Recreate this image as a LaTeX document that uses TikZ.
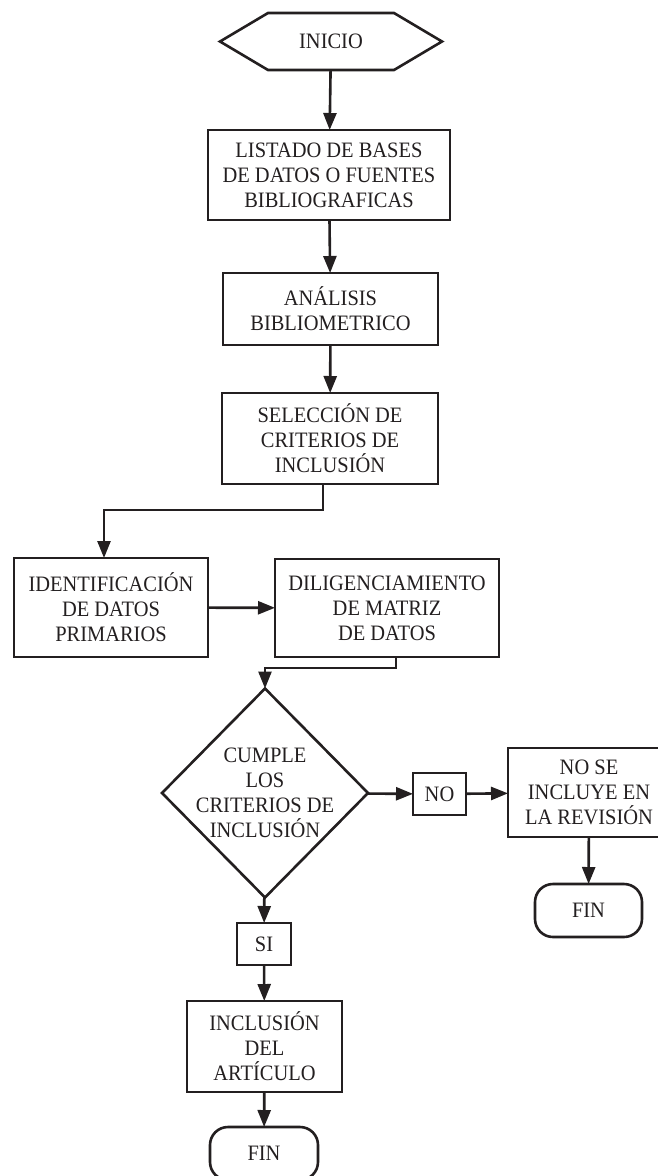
\documentclass[tikz,border=0pt]{standalone}
\usepackage{fontspec}
\setmainfont{Liberation Serif}[FakeStretch=0.93]
\usepackage{xcolor}
\usetikzlibrary{arrows.meta,shapes.geometric}

\definecolor{ink}{RGB}{35,31,32}

\begin{document}
\begin{tikzpicture}[x=1pt, y=-1pt, line width=2.6pt, ink,
    every node/.style={font=\fontsize{22}{25}\selectfont, text=ink, align=center, inner sep=0pt, outer sep=0pt},
    box/.style={draw, rectangle},
    endbox/.style={draw, rectangle, rounded corners=18pt},
    arr/.style={-{Triangle[length=17pt,width=13pt]}}]
    \useasboundingbox (0,0) rectangle (657,1176);
    % start
    \node (inicio) [minimum width=222pt, minimum height=57pt] at (331,41.5) {INICIO};
    \draw (inicio.west) -- ([xshift=48pt]inicio.north west) -- ([xshift=-48pt]inicio.north east)
      -- (inicio.east) -- ([xshift=-48pt]inicio.south east) -- ([xshift=48pt]inicio.south west) -- cycle;
    % main column
    \node (listado) [box, minimum width=242pt, minimum height=90pt] at (329,175) {LISTADO DE BASES\\DE DATOS O FUENTES\\BIBLIOGRAFICAS};
    \node (analisis) [box, minimum width=215pt, minimum height=72pt] at (330.5,309) {ANÁLISIS\\BIBLIOMETRICO};
    \node (seleccion) [box, minimum width=216pt, minimum height=91pt] at (330,438.5) {SELECCIÓN DE\\CRITERIOS DE\\INCLUSIÓN};
    \node (ident) [box, minimum width=194pt, minimum height=99pt] at (111,607.5) {IDENTIFICACIÓN\\DE DATOS\\PRIMARIOS};
    \node (dilig) [box, minimum width=224pt, minimum height=98pt] at (387,608) {DILIGENCIAMIENTO\\DE MATRIZ\\DE DATOS};
    % decision
    \node (cumple) [draw, diamond, minimum width=206pt, minimum height=209pt] at (265,793) {};
    \node (cumpletxt) at (cumple) {CUMPLE\\LOS\\CRITERIOS DE\\INCLUSIÓN};
    \node (no) [box, minimum width=53pt, minimum height=42pt] at (439.5,794) {NO};
    \node (nose) [box, minimum width=162pt, minimum height=89pt] at (589,792.5) {NO SE\\INCLUYE EN\\LA REVISIÓN};
    \node (finno) [endbox, minimum width=107pt, minimum height=53pt] at (588.5,910.5) {FIN};
    \node (si) [box, minimum width=54pt, minimum height=42pt] at (264,944) {SI};
    \node (inclusion) [box, minimum width=155pt, minimum height=91pt] at (264.5,1046.5) {INCLUSIÓN\\DEL\\ARTÍCULO};
    \node (finsi) [endbox, minimum width=108pt, minimum height=53pt] at (264,1153.5) {FIN};
    % connectors
    \foreach \a/\b in {inicio/listado, listado/analisis, analisis/seleccion, ident/dilig,
        cumple/no, no/nose, nose/finno, cumple/si, si/inclusion, inclusion/finsi} {
      \draw[arr] (\a) -- (\b);
    }
    \draw[arr] ([xshift=-7pt]seleccion.south) -- ++(0,26) -| ([xshift=-7pt]ident.north);
    \draw[arr] ([xshift=9pt]dilig.south) -- ++(0,11) -| (cumple.north);
\end{tikzpicture}
\end{document}
